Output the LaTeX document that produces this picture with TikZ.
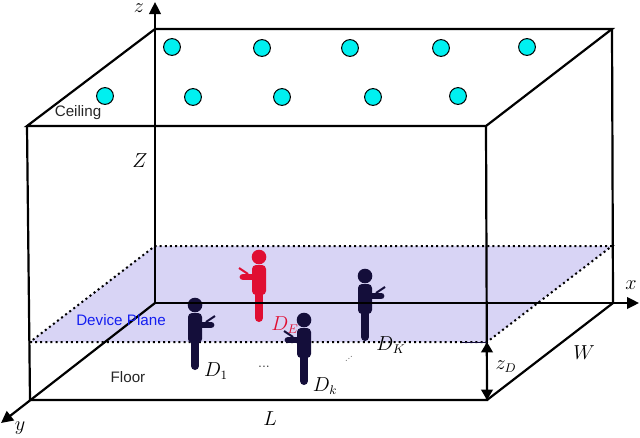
\documentclass[tikz,border=0pt]{standalone}
\usepackage{fontspec}
\setsansfont{Liberation Sans}
\usepackage{amsmath}
\usetikzlibrary{arrows.meta}
\definecolor{Plane}{RGB}{216,212,245}
\definecolor{Navy}{RGB}{20,14,58}
\definecolor{Crimson}{RGB}{224,14,50}
\definecolor{Lamp}{RGB}{0,240,240}
\definecolor{PlaneText}{RGB}{20,30,240}
\tikzset{
	wall/.style={draw=black, line width=0.55mm},
	axis/.style={draw=black, line width=0.55mm, -{Triangle[length=3mm, width=2.9mm]}},
	height/.style={draw=black, line width=0.55mm, {Triangle[length=2.6mm, width=2.9mm]}-{Triangle[length=2.6mm, width=2.9mm]}},
	planeEdge/.style={draw=black, line width=0.5mm, dash pattern=on 0.5mm off 0.78mm},
	lamp/.style={circle, draw=black, fill=Lamp, line width=0.25mm, minimum size=4.2mm, inner sep=0pt},
	word/.style={font=\sffamily\fontsize{10.8}{13}\selectfont, inner sep=0pt, color=black!85},
	symbol/.style={font=\fontsize{13.5}{16}\selectfont, inner sep=0pt}
}
% head at #1, #2 = 1 faces right, -1 faces left, #3 = colour
\newcommand{\person}[3]{
	\begin{scope}[shift={(#1)}, xscale=#2]
		\fill[#3] (0,0) circle (7.3);
		\fill[#3, rounded corners=1mm] (-7,8) rectangle (7,38);
		\draw[#3, line width=2mm, line cap=round] (0,36) -- (0,61);
		\draw[#3, line width=1.7mm, line cap=round] (0,20) -- (16,20);
		\draw[#3, line width=0.5mm] (11,17) -- (20,11);
	\end{scope}
}

\begin{document}
\begin{tikzpicture}[x=0.25mm, y=-0.25mm]
		\useasboundingbox (0,0) rectangle (640,437);
		
		% Corners
		\coordinate (origin) at (155,303);
		\coordinate (backTopLeft) at (155,29);
		\coordinate (backTopRight) at (612,29);
		\coordinate (backBottomRight) at (613,303);
		\coordinate (frontTopLeft) at (27,126);
		\coordinate (frontTopRight) at (486,126);
		\coordinate (frontBottomLeft) at (30,400);
		\coordinate (frontBottomRight) at (487,400);
		\coordinate (zEnd) at (155,2);
		\coordinate (xEnd) at (639,303);
		\coordinate (yEnd) at (1,423);
		
		% Device plane
		\coordinate (planeFrontLeft) at (30,342);
		\coordinate (planeFrontRight) at (487,342);
		\coordinate (planeBackRight) at (612,246);
		\coordinate (planeBackLeft) at (155,246);
		\coordinate (planeTick) at (462,342);
		\fill[Plane] (planeFrontLeft) -- (planeFrontRight) -- (planeBackRight) -- (planeBackLeft) -- cycle;
		\draw[planeEdge] (planeFrontLeft) -- (planeFrontRight) -- (planeBackRight) -- (planeBackLeft) -- cycle;
		
		% Devices
		\person{259,257}{-1}{Crimson}
		\person{195,305}{1}{Navy}
		\person{304,320}{-1}{Navy}
		\person{365,276}{1}{Navy}
		
		% Room
		\draw[wall] (frontTopLeft) -- (frontTopRight) -- (backTopRight) -- (backTopLeft) -- cycle;
		\draw[wall] (frontTopLeft) -- (frontBottomLeft) -- (frontBottomRight) -- (frontTopRight);
		\draw[wall] (frontBottomRight) -- (backBottomRight) -- (backTopRight);
		
		% Axes
		\draw[axis] (origin) -- (zEnd);
		\draw[axis] (origin) -- (xEnd);
		\draw[axis] (origin) -- (yEnd);
		
		% Device height
		\draw[draw=Navy, line width=0.25mm] (planeTick) -- (planeFrontRight);
		\draw[height] (planeFrontRight) -- (frontBottomRight);
		
		% Lamps
		\node[lamp] (lampA) at (172,47) {};
		\node[lamp] (lampB) at (262,48) {};
		\node[lamp] (lampC) at (350,48) {};
		\node[lamp] (lampD) at (441,48) {};
		\node[lamp] (lampE) at (527,47) {};
		\node[lamp] (lampF) at (105,96) {};
		\node[lamp] (lampG) at (193,97) {};
		\node[lamp] (lampH) at (282,97) {};
		\node[lamp] (lampI) at (373,97) {};
		\node[lamp] (lampJ) at (458,96) {};
		
		% Names
		\node[word] (ceiling) at (78,113) {Ceiling};
		\node[word] (floor) at (128,377) {Floor};
		\node[word, color=PlaneText] (planeName) at (121,320) {Device Plane};
		
		% Variables
		\node[symbol] (zLabel) at (139,8) {$z$};
		\node[symbol] (xLabel) at (631,285) {$x$};
		\node[symbol] (yLabel) at (20,428) {$y$};
		\node[symbol] (heightLabel) at (140,161) {$Z$};
		\node[symbol] (lengthLabel) at (270,419) {$L$};
		\node[symbol] (widthLabel) at (584,353) {$W$};
		\node[symbol] (zDLabel) at (506,367) {$z_D$};
		\node[symbol] (dOne) at (216,371) {$D_1$};
		\node[symbol, color=Crimson] (dEve) at (285,325) {$D_E$};
		\node[symbol] (dSmall) at (325,386) {$D_k$};
		\node[symbol] (dLarge) at (391,345) {$D_K$};
		
		% Dots
		\node[inner sep=0pt, font=\fontsize{10}{12}\selectfont, color=black!80] (dotsRow) at (264,367) {...};
		\node[inner sep=0pt, rotate=40, font=\fontsize{8}{10}\selectfont, color=black!50] (dotsSlant) at (349,359) {...};
		
	\end{tikzpicture}
\end{document}
